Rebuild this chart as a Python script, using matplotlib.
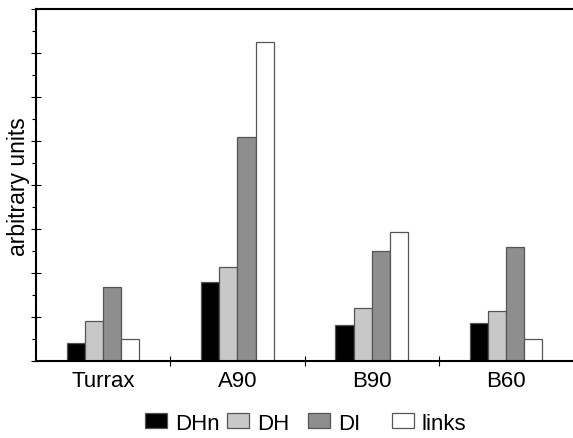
import numpy as np
import matplotlib.pyplot as plt
from matplotlib.ticker import MultipleLocator

plt.rcParams['font.family'] = ['Liberation Sans', 'DejaVu Sans']

categories = ['Turrax', 'A90', 'B90', 'B60']
series = ['DHn', 'DH', 'DI', 'links']
dhn = [0.82, 3.6, 1.64, 1.73]
dh = [1.82, 4.3, 2.4, 2.27]
di = [3.36, 10.2, 5.0, 5.2]
links = [1.0, 14.5, 5.86, 1.0]

colors = ['#000000', '#c8c8c8', '#8e8e8e', '#ffffff']

fig = plt.figure(figsize=(5.73, 4.39), dpi=100)
ax = fig.add_axes([0.063, 0.175, 0.937, 0.802])

x = np.arange(len(categories))
w = 0.135
bars = []
for i, (vals, c) in enumerate(zip([dhn, dh, di, links], colors)):
    b = ax.bar(x + (i - 1.5) * w, vals, w, color=c, edgecolor='#555555',
               linewidth=0.9, label=series[i], zorder=2)
    bars.append(b)

ax.set_xlim(-0.5, 3.5)
ax.set_ylim(0, 16)
ax.set_xticks(x)
ax.set_xticklabels(categories, fontsize=16)
ax.set_xticks(x[:-1] + 0.5, minor=True)
ax.tick_params(axis='x', which='major', length=0, pad=6)
ax.tick_params(axis='x', which='minor', direction='inout', length=7, width=0.8)
ax.yaxis.set_major_locator(MultipleLocator(2))
ax.yaxis.set_minor_locator(MultipleLocator(1))
ax.set_yticklabels([])
ax.tick_params(axis='y', which='major', direction='inout', length=7, width=0.8)
ax.tick_params(axis='y', which='minor', direction='out', length=3, width=0.8)
ax.set_ylabel('arbitrary units', fontsize=16.5)
ax.yaxis.set_label_coords(-0.012, 0.5)

for s in ['left', 'bottom', 'top']:
    ax.spines[s].set_linewidth(1.5)
ax.spines['right'].set_visible(False)

# legend entries on a fixed pitch, like the original
lx = [0.253, 0.396, 0.538, 0.684]
for b, lab, px in zip(bars, series, lx):
    fig.legend([b], [lab], loc='center left', bbox_to_anchor=(px, 0.034),
               frameon=False, fontsize=16, handlelength=1.0, handleheight=0.68,
               handletextpad=0.35, borderpad=0, borderaxespad=0)

fig.savefig('out.png', dpi=100)
